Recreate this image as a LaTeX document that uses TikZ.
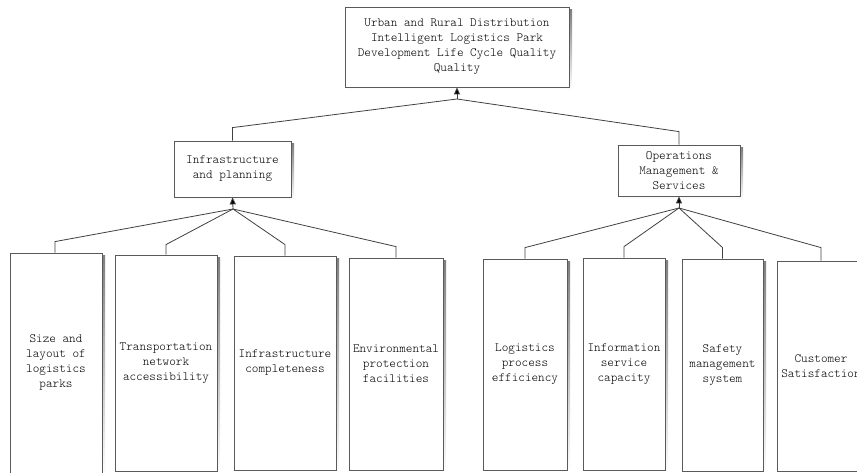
\documentclass[tikz,border=0pt]{standalone}
\usepackage{fontspec}
\setmainfont{lmmonolt10-regular.otf}
\usetikzlibrary{arrows.meta}
\definecolor{edge}{HTML}{404040}
\definecolor{frame}{HTML}{5A5A5A}
\definecolor{shade}{HTML}{CCCCCC}
\tikzset{
  box/.style={draw=frame, line width=0.8pt, fill=white, inner sep=1pt, align=center,
    font=\fontsize{12.6}{15}\selectfont},
  link/.style={draw=edge, line width=0.8pt},
  up/.style={draw=edge, line width=0.8pt, -{Triangle[length=7pt,width=6pt,fill=black]}},
}
\newcommand{\mybox}[6]{% name, x1, y1, x2, y2, text
  \fill[shade] (#2+3,#3+3) rectangle (#4+3,#5+3);
  \node[box, minimum width=#4-#2, minimum height=#5-#3, anchor=center] (#1) at ({(#2+#4)/2},{(#3+#5)/2}) {#6};
}
\begin{document}
\begin{tikzpicture}[x=1pt,y=-1pt]
\useasboundingbox (0,0) rectangle (857,473);
\clip (0,0) rectangle (857,473);
\mybox{top}{345}{7}{569}{87}{Urban and Rural Distribution\\Intelligent Logistics Park\\Development Life Cycle Quality\\Quality}
\mybox{infra}{174}{141}{291}{197}{Infrastructure\\and planning}
\mybox{ops}{618}{145}{740}{196}{Operations\\Management \&\\Services}
\mybox{b1}{10}{253}{102}{473}{Size and\\layout of\\logistics\\parks}
\mybox{b2}{115}{255}{217}{471}{Transportation\\network\\accessibility}
\mybox{b3}{234}{256}{336}{470}{Infrastructure\\completeness}
\mybox{b4}{349}{258}{443}{470}{Environmental\\protection\\facilities}
\mybox{b5}{483}{259}{567}{470}{Logistics\\process\\efficiency}
\mybox{b6}{583}{258}{665}{470}{Information\\service\\capacity}
\mybox{b7}{682}{259}{763}{471}{Safety\\management\\system}
\mybox{b8}{777}{261}{865}{471}{Customer\\Satisfaction}
\coordinate (j0) at (457,99);
\coordinate (j1) at (233,209);
\coordinate (j2) at (679,208);
\draw[up] (j0) -- (top.south);
\draw[up] (j1) -- (infra.south);
\draw[up] (j2) -- (ops.south);
\draw[link] (infra.north) -- ++(0,-13) -- (j0);
\draw[link] (ops.north) -- ++(0,-13) -- (j0);
\draw[link] ([xshift=-1pt]b1.north) -- ++(0,-11) -- (j1);
\draw[link] (b2.north) -- ++(0,-10) -- (j1);
\draw[link] (b3.north) -- ++(0,-11) -- (j1);
\draw[link] (b4.north) -- ++(0,-11) -- (j1);
\draw[link] (b5.north) -- ++(0,-11) -- (j2);
\draw[link] (b6.north) -- ++(0,-11) -- (j2);
\draw[link] (b7.north) -- ++(0,-11) -- (j2);
\draw[link] (b8.north) -- ++(0,-13) -- (j2);
\end{tikzpicture}
\end{document}
